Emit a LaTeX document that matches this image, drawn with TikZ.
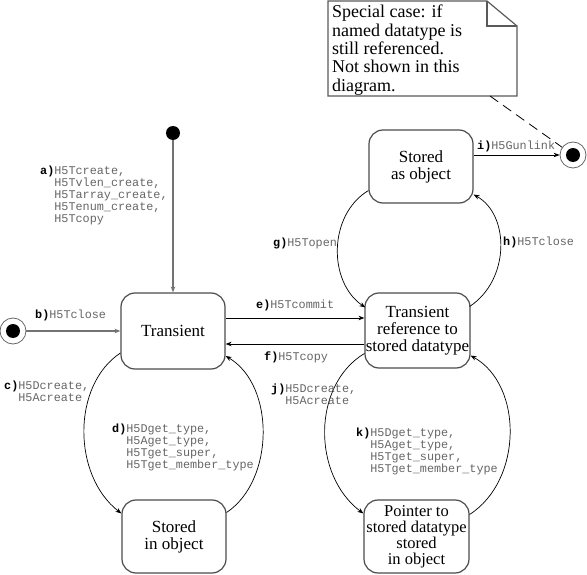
\documentclass[tikz,border=0pt]{standalone}
\usepackage{fontspec}
\setmainfont{Liberation Serif}
\setmonofont{Liberation Mono}
\usetikzlibrary{calc,arrows.meta}
\newcommand\pfx[1]{\textbf{\textcolor{black}{#1}}}
\begin{document}
\begin{tikzpicture}[x=1pt,y=-1pt,
  statebox/.style={draw=black!70, line width=1.2pt, rounded corners=14pt, align=center,
    font=\fontsize{17}{17}\selectfont, inner sep=0},
  lbl/.style={anchor=north west, inner sep=0, align=left, text=black!60,
    font=\fontsize{11.8}{12}\ttfamily},
  conn/.style={draw=black, line width=0.7pt, -{Stealth[length=6pt,width=4.5pt]}},
  gconn/.style={draw=black!55, line width=1.2pt, -{Stealth[length=6pt,width=4.5pt]}},
  finring/.style={circle, draw=black!60, line width=0.8pt, minimum size=26pt, inner sep=0},
  dotnode/.style={circle, fill=black, minimum size=14pt, inner sep=0}]
\useasboundingbox (0,0) rectangle (587,575);

% states
\node[statebox, minimum width=104pt, minimum height=76pt] (tr) at (173,331) {Transient};
\node[statebox, minimum width=105pt, minimum height=75pt] (tref) at (417.5,330.5) {Transient\\reference to\\stored datatype};
\node[statebox, minimum width=104pt, minimum height=73pt] (soo) at (421,166.5) {Stored\\as object};
\node[statebox, minimum width=104pt, minimum height=73pt] (sio) at (174,536.5) {Stored\\in object};
\node[statebox, minimum width=105pt, minimum height=73pt, font=\fontsize{16.5}{16}\selectfont] (ptr) at (416.5,536.5) {Pointer to\\stored datatype\\stored\\in object};

% pseudo states
\node[dotnode] (start) at (173,133) {};
\node[finring] (fin0) at (13,331) {};
\node[dotnode] (fin0dot) at (fin0) {};
\node[finring] (fin1) at (573,155) {};
\node[dotnode] (fin1dot) at (fin1) {};

% note
\draw[draw=black!65, line width=1.2pt] (328,1) -- (487,1) -- (517,26) -- (517,96) -- (328,96) -- cycle;
\draw[draw=black!65, line width=1.2pt] (487,1) -- (487,26) -- (517,26);
\node[anchor=north west, inner sep=0, align=left, font=\fontsize{18}{18.3}\selectfont] (notetext) at (332,5)
  {Special case: if\\named datatype is\\still referenced.\\Not shown in this\\diagram.};
\coordinate (notetail) at (490,96);
\draw[line width=0.8pt, dash pattern=on 10pt off 6pt] (notetail) -- (fin1);

% connectors
\draw[gconn] (start) -- (tr);
\draw[gconn] (fin0) -- (tr.west);
\draw[conn] ($(tr.east)+(0,-13)$) -- ($(tref.west)+(0,-12.5)$);
\draw[conn] ($(tref.west)+(0,13.5)$) -- ($(tr.east)+(0,13)$);
\draw[conn] ($(soo.east)+(0,-11.5)$) -- (fin1);
\draw[conn] ($(soo.west)+(0,24)$) .. controls (328,215) and (328,282) .. ($(tref.west)+(1,-23)$);
\draw[conn] ($(tref.east)+(-1,-24)$) .. controls (510,280) and (510,215) .. ($(soo.east)+(0,28)$);
\draw[conn] ($(tr.west)+(0,22)$) .. controls (72,385) and (72,475) .. ($(sio.west)+(0,-23)$);
\draw[conn] ($(sio.east)+(0,-24)$) .. controls (275,480) and (275,385) .. ($(tr.east)+(0,25)$);
\draw[conn] ($(tref.west)+(0,23)$) .. controls (312,385) and (312,475) .. ($(ptr.west)+(0,-23)$);
\draw[conn] ($(ptr.east)+(0,-22)$) .. controls (523,480) and (523,385) .. ($(tref.east)+(0,25)$);

% labels
\node[lbl] (la) at (40,166) {\pfx{a)}H5Tcreate,\\\phantom{a)}H5Tvlen\_create,\\\phantom{a)}H5Tarray\_create,\\\phantom{a)}H5Tenum\_create,\\\phantom{a)}H5Tcopy};
\node[lbl] (lb) at (35,310) {\pfx{b)}H5Tclose};
\node[lbl] (lc) at (4,381) {\pfx{c)}H5Dcreate,\\\phantom{c)}H5Acreate};
\node[lbl] (ld) at (112,424) {\pfx{d)}H5Dget\_type,\\\phantom{d)}H5Aget\_type,\\\phantom{d)}H5Tget\_super,\\\phantom{d)}H5Tget\_member\_type};
\node[lbl] (le) at (256,300) {\pfx{e)}H5Tcommit};
\node[lbl] (lf) at (264,352) {\pfx{f)}H5Tcopy};
\node[lbl] (lg) at (273,238) {\pfx{g)}H5Topen};
\node[lbl] (lh) at (503,237) {\pfx{h)}H5Tclose};
\node[lbl] (li) at (477,141) {\pfx{i)}H5Gunlink};
\node[lbl] (lj) at (271,384) {\pfx{j)}H5Dcreate,\\\phantom{j)}H5Acreate};
\node[lbl] (lk) at (356,428) {\pfx{k)}H5Dget\_type,\\\phantom{k)}H5Aget\_type,\\\phantom{k)}H5Tget\_super,\\\phantom{k)}H5Tget\_member\_type};
\end{tikzpicture}
\end{document}
